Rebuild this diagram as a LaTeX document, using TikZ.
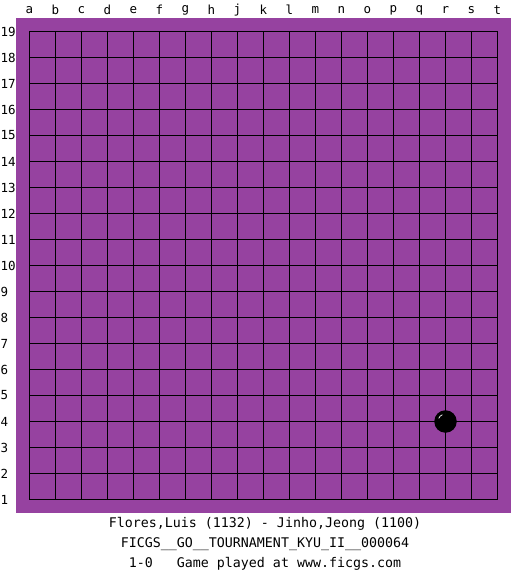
\documentclass[tikz,border=0pt]{standalone}
\usepackage{fontspec}
\setmonofont{DejaVu Sans Mono}
\usepackage{tikz}
\usetikzlibrary{positioning}
\definecolor{boardpurple}{RGB}{150,66,160}

\tikzset{
    boardlabel/.style={font=\ttfamily\fontsize{12.5}{14}\selectfont, inner sep=0pt},
    gameinfo/.style={font=\ttfamily\fontsize{13.3}{16}\selectfont, inner sep=0pt}
}

\begin{document}
\begin{tikzpicture}[x=1pt, y=-1pt]
    \useasboundingbox[fill=white] (0,0) rectangle (525,575);
    % board
    \fill[boardpurple] (16,18) rectangle (511,513);
    \foreach \i in {0,...,18} {
        \draw[line width=1pt] (29.5+26*\i,31.5) -- (29.5+26*\i,499.5);
        \draw[line width=1pt] (29.5,31.5+26*\i) -- (497.5,31.5+26*\i);
    }
    % coordinates
    \foreach \c [count=\i from 0] in {a,b,c,d,e,f,g,h,j,k,l,m,n,o,p,q,r,s,t} {
        \node[boardlabel] (col-\c) at (29.5+26*\i,10) {\c};
    }
    \foreach \r [count=\i from 0] in {19,18,...,1} {
        \node[boardlabel, anchor=west] (row-\r) at (0.5,31.5+26*\i) {\r};
    }
    % stone at r4
    \node[circle, fill=black, minimum size=22.5pt, inner sep=0pt] (stone) at (445.5,421.5) {};
    \draw[white, line width=0.7pt] ([shift={(205:7.5)}]stone.center) arc[start angle=205, end angle=245, radius=7.5];
    % game info
    \node[gameinfo] (players) at (265,524) {Flores,Luis (1132) - Jinho,Jeong (1100)};
    \node[gameinfo, below=6.5pt of players] (event) {FICGS\_\_GO\_\_TOURNAMENT\_KYU\_II\_\_000064};
    \node[gameinfo, below=6.5pt of event] (result) {1-0\ \ \ Game played at www.ficgs.com};
\end{tikzpicture}
\end{document}
